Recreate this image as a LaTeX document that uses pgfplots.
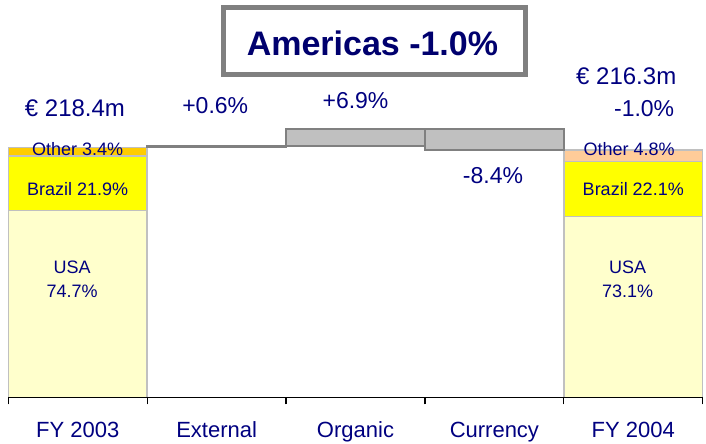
\documentclass[border=0pt]{standalone}
\usepackage{fontspec}
\setmainfont{Liberation Sans}
\usepackage{pgfplots}
\pgfplotsset{compat=1.18}

\definecolor{navy}{HTML}{000080}
\definecolor{titlenavy}{HTML}{00006E}
\definecolor{usa}{HTML}{FFFFCC}
\definecolor{brazil}{HTML}{FFFF00}
\definecolor{otherA}{HTML}{FFCC00}
\definecolor{otherB}{HTML}{FFCC99}
\definecolor{edge}{HTML}{C0C0C0}
\definecolor{stepfill}{HTML}{C0C0C0}
\definecolor{stepedge}{HTML}{808080}

\newcommand{\fs}[1]{\fontsize{#1}{#1}\selectfont}

\begin{document}
\begin{tikzpicture}
    \begin{axis}[
            width=694.4bp, height=397.3bp, scale only axis,
            xmin=-0.5, xmax=4.5,
            ymin=0, ymax=347.3,
            axis x line*=bottom,
            axis y line=none,
            x axis line style={black, line width=1.2bp},
            xtick={0,...,4},
            xticklabels={FY 2003, External, Organic, Currency, FY 2004},
            major tick length=0pt,
            xticklabel style={font=\fs{22bp}, text=navy, anchor=base, yshift=-40bp},
            extra x ticks={-0.5,0.5,1.5,2.5,3.5,4.5},
            extra x tick labels={},
            extra x tick style={major tick length=7bp, tick align=outside,
                tick style={black, line width=1.2bp}},
            ybar, bar width=1,
            axis on top,
            clip=false,
        ]
        % FY bars, segments drawn from the top down
        \addplot[bar shift=0pt, fill=otherA, draw=edge, line width=1.5bp] coordinates {(0,218.4)};
        \addplot[bar shift=0pt, fill=otherB, draw=edge, line width=1.5bp] coordinates {(4,216.3)};
        \addplot[bar shift=0pt, fill=brazil, draw=edge, line width=1.5bp] coordinates {(0,210.97) (4,205.92)};
        \addplot[bar shift=0pt, fill=usa, draw=edge, line width=1.5bp] coordinates {(0,163.14) (4,158.12)};

        \node[font=\fs{18bp}, text=navy, anchor=base] at (axis cs:0,211.8) {Other 3.4\%};
        \node[font=\fs{18bp}, text=navy, anchor=base] at (axis cs:0,176.6) {Brazil 21.9\%};
        \node[font=\fs{18bp}, text=navy, anchor=base] at (axis cs:-0.04,107.8) {USA};
        \node[font=\fs{18bp}, text=navy, anchor=base] at (axis cs:-0.04,87.4) {74.7\%};
        \node[font=\fs{18bp}, text=navy, anchor=base] at (axis cs:3.97,211.8) {Other 4.8\%};
        \node[font=\fs{18bp}, text=navy, anchor=base] at (axis cs:4,176.8) {Brazil 22.1\%};
        \node[font=\fs{18bp}, text=navy, anchor=base] at (axis cs:3.96,107.8) {USA};
        \node[font=\fs{18bp}, text=navy, anchor=base] at (axis cs:3.96,87.4) {73.1\%};

        \node[font=\fs{24bp}, text=navy, anchor=base] at (axis cs:-0.02,245.1) {€ 218.4m};
        \node[font=\fs{23bp}, text=navy, anchor=base] at (axis cs:0.99,247.7) {+0.6\%};
        \node[font=\fs{23bp}, text=navy, anchor=base] at (axis cs:2.0,252.7) {+6.9\%};
        \node[font=\fs{23bp}, text=navy, anchor=base] at (axis cs:2.99,186.5) {-8.4\%};
        \node[font=\fs{24bp}, text=navy, anchor=base east] at (axis cs:4.335,273.0) {€ 216.3m};
        \node[font=\fs{23bp}, text=navy, anchor=base east] at (axis cs:4.32,245.3) {-1.0\%};

        % title box
        \draw[stepedge, line width=5bp] (axis cs:1.049,282.2) rectangle (axis cs:3.224,340.8);
        \node[font=\fs{34bp}\bfseries, text=titlenavy, anchor=base] at (axis cs:2.122,298.4) {Americas -1.0\%};
    \end{axis}

    % waterfall steps
    \begin{axis}[
            width=694.4bp, height=397.3bp, scale only axis,
            xmin=-0.5, xmax=4.5,
            ymin=0, ymax=347.3,
            hide axis,
            ybar stacked, bar width=1,
        ]
        \addplot[draw=none, fill=none] coordinates {(1,218.4) (2,219.71) (3,216.3)};
        \addplot[fill=stepfill, draw=stepedge, line width=2bp] coordinates {(1,1.31) (2,15.07) (3,18.48)};
    \end{axis}

    \pgfresetboundingbox
    \path[use as bounding box] ([shift={(-8.3bp,-45.7bp)}]current axis.south west)
        rectangle ([shift={(3.3bp,0bp)}]current axis.north east);
\end{tikzpicture}
\end{document}
